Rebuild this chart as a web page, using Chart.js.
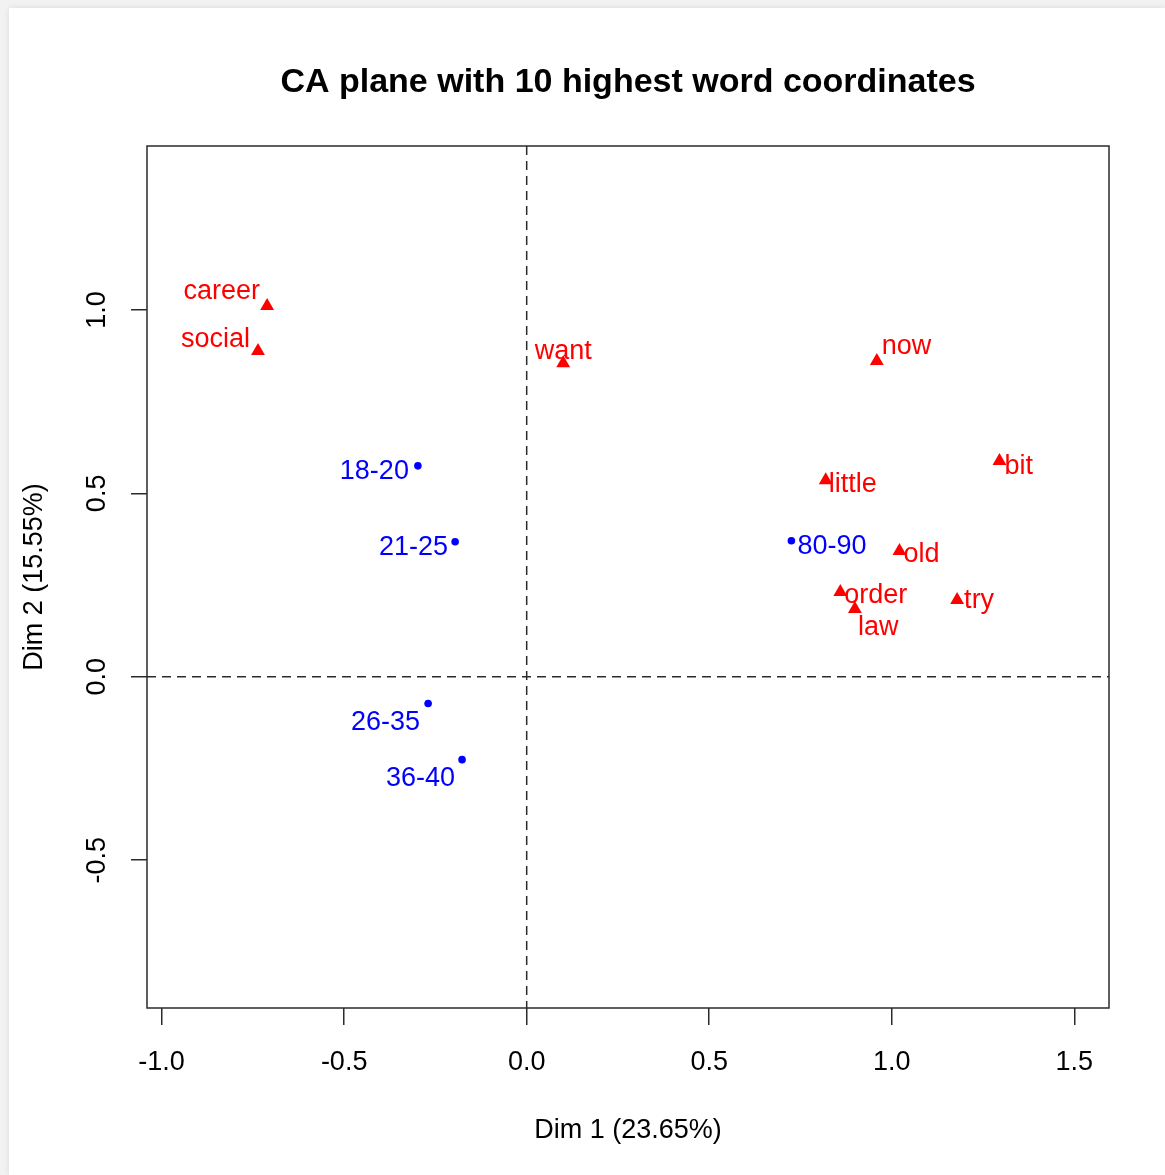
<!DOCTYPE html>
<html>
<head>
<meta charset="utf-8">
<title>CA plane</title>
<script src="https://cdn.jsdelivr.net/npm/chart.js@4/dist/chart.umd.min.js"></script>
<style>
    html, body { margin: 0; padding: 0; background: #f2f2f2; }
    #panel {
        position: absolute; left: 9px; top: 8px; width: 1156px; height: 1167px;
        background: #fff; box-shadow: 0 0 6px rgba(0,0,0,0.10);
    }
    #myChart { position: absolute; left: 0; top: 0; }
</style>
</head>
<body>
<div id="panel"></div>
<canvas id="myChart" width="1165" height="1175"></canvas>
<script>
// word coordinates on the first two CA dimensions
var wordLabels = ['career', 'social', 'want', 'now', 'bit', 'little', 'old', 'order', 'law', 'try'];
var wordDim1 = [-0.711, -0.736, 0.100, 0.959, 1.295, 0.819, 1.021, 0.859, 0.899, 1.179];
var wordDim2 = [1.011, 0.888, 0.855, 0.861, 0.588, 0.536, 0.343, 0.231, 0.185, 0.209];

// age group coordinates
var ageLabels = ['18-20', '21-25', '26-35', '36-40', '80-90'];
var ageDim1 = [-0.298, -0.196, -0.270, -0.177, 0.725];
var ageDim2 = [0.575, 0.368, -0.073, -0.226, 0.371];

var xTickLabels = ['-1.0', '-0.5', '0.0', '0.5', '1.0', '1.5'];
var yTickLabels = ['-0.5', '0.0', '0.5', '1.0'];

var titleText = 'CA plane with 10 highest word coordinates';
var xTitle = 'Dim 1 (23.65%)';
var yTitle = 'Dim 2 (15.55%)';

// where each label sits next to its point: [align, dx, dy] in px
var wordLabelPos = {
    career: ['right', -7, -7],
    social: ['right', -8, -4],
    want:   ['center', 0, -4],
    now:    ['left', 5, -7],
    bit:    ['left', 5, 13],
    little: ['left', 3, 12],
    old:    ['left', 4, 11],
    order:  ['left', 4, 11],
    law:    ['left', 3, 26],
    'try':  ['left', 7, 8]
};
var ageLabelPos = {
    '18-20': ['right', -9, 13],
    '21-25': ['right', -7, 13],
    '26-35': ['right', -8, 26],
    '36-40': ['right', -7, 26],
    '80-90': ['left', 6, 13]
};

var FONT = '"Liberation Sans", Arial, Helvetica, sans-serif';
var AXIS_COLOR = '#2b2b2b';

function toPoints(xs, ys, labels) {
    return xs.map(function(x, i) {
        return { x: x, y: ys[i], label: labels[i] };
    });
}

var caPlot = {
    id: 'caPlot',
    beforeDatasetsDraw: function(chart) {
        var ctx = chart.ctx;
        var area = chart.chartArea;
        var xs = chart.scales.x, ys = chart.scales.y;
        var x0 = xs.getPixelForValue(0);
        var y0 = ys.getPixelForValue(0);
        ctx.save();
        ctx.strokeStyle = AXIS_COLOR;
        ctx.lineWidth = 1.5;
        ctx.setLineDash([9, 6]);
        ctx.beginPath();
        ctx.moveTo(x0, area.top);
        ctx.lineTo(x0, area.bottom);
        ctx.moveTo(area.left, y0);
        ctx.lineTo(area.right, y0);
        ctx.stroke();
        ctx.setLineDash([]);
        ctx.strokeRect(area.left, area.top, area.right - area.left, area.bottom - area.top);
        ctx.restore();
    },
    afterDatasetsDraw: function(chart) {
        var ctx = chart.ctx;
        var area = chart.chartArea;
        var xs = chart.scales.x, ys = chart.scales.y;
        ctx.save();

        // point labels
        ctx.font = '27px ' + FONT;
        ctx.textBaseline = 'alphabetic';
        function drawLabels(datasetIndex, pos, color) {
            var meta = chart.getDatasetMeta(datasetIndex);
            var data = chart.data.datasets[datasetIndex].data;
            ctx.fillStyle = color;
            meta.data.forEach(function(el, i) {
                var p = pos[data[i].label];
                ctx.textAlign = p[0];
                ctx.fillText(data[i].label, el.x + p[1], el.y + p[2]);
            });
        }
        drawLabels(0, wordLabelPos, '#ff0000');
        drawLabels(1, ageLabelPos, '#0000ff');

        // tick labels
        ctx.fillStyle = '#000';
        ctx.textAlign = 'center';
        xTickLabels.forEach(function(t) {
            ctx.fillText(t, xs.getPixelForValue(parseFloat(t)), 1070);
        });
        yTickLabels.forEach(function(t) {
            ctx.save();
            ctx.translate(105, ys.getPixelForValue(parseFloat(t)));
            ctx.rotate(-Math.PI / 2);
            ctx.fillText(t, 0, 0);
            ctx.restore();
        });

        // axis titles
        var cx = (area.left + area.right) / 2;
        var cy = (area.top + area.bottom) / 2;
        ctx.fillText(xTitle, cx, 1138);
        ctx.save();
        ctx.translate(42, cy);
        ctx.rotate(-Math.PI / 2);
        ctx.fillText(yTitle, 0, 0);
        ctx.restore();

        // main title
        ctx.font = 'bold 34px ' + FONT;
        ctx.fillText(titleText, cx, 92);
        ctx.restore();
    }
};

var ctx = document.getElementById('myChart').getContext('2d');
var myChart = new Chart(ctx, {
    type: 'scatter',
    data: {
        datasets: [{
            label: 'words',
            data: toPoints(wordDim1, wordDim2, wordLabels),
            pointStyle: 'triangle',
            pointRadius: 8,
            backgroundColor: '#ff0000',
            borderColor: '#ff0000',
            borderWidth: 0
        },
        {
            label: 'age',
            data: toPoints(ageDim1, ageDim2, ageLabels),
            pointStyle: 'circle',
            pointRadius: 3.8,
            backgroundColor: '#0000ff',
            borderColor: '#0000ff',
            borderWidth: 0
        }]
    },
    options: {
        responsive: false,
        devicePixelRatio: 1,
        animation: false,
        events: [],
        layout: {
            padding: { top: 146, right: 56, left: 0, bottom: 0 }
        },
        plugins: {
            legend: { display: false },
            title: { display: false },
            tooltip: { enabled: false }
        },
        scales: {
            x: {
                type: 'linear',
                position: 'bottom',
                min: -1.040,
                max: 1.595,
                afterBuildTicks: function(scale) {
                    scale.ticks = xTickLabels.map(function(t) { return { value: parseFloat(t) }; });
                },
                afterFit: function(scale) { scale.height = 167; },
                ticks: { display: false },
                grid: {
                    drawOnChartArea: false,
                    drawTicks: true,
                    tickLength: 17,
                    color: AXIS_COLOR,
                    lineWidth: 1.5
                },
                border: { display: false }
            },
            y: {
                type: 'linear',
                position: 'left',
                min: -0.903,
                max: 1.447,
                afterBuildTicks: function(scale) {
                    scale.ticks = yTickLabels.map(function(t) { return { value: parseFloat(t) }; });
                },
                afterFit: function(scale) { scale.width = 147; },
                ticks: { display: false },
                grid: {
                    drawOnChartArea: false,
                    drawTicks: true,
                    tickLength: 16,
                    color: AXIS_COLOR,
                    lineWidth: 1.5
                },
                border: { display: false }
            }
        }
    },
    plugins: [caPlot]
});
</script>
</body>
</html>
